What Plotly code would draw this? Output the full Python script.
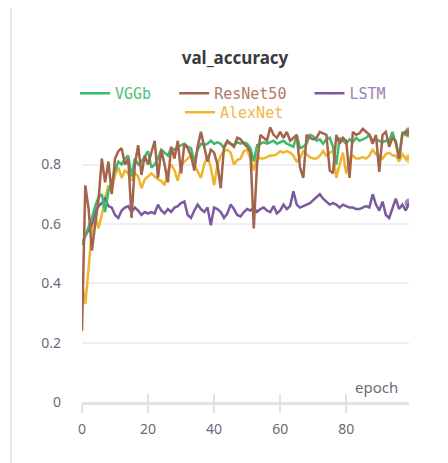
import plotly.graph_objects as go

epochs = list(range(100))

vggb = [0.53, 0.56, 0.585, 0.62, 0.66, 0.69, 0.70, 0.64, 0.71, 0.74,
        0.78, 0.81, 0.80, 0.82, 0.83, 0.76, 0.82, 0.80, 0.81, 0.83,
        0.845, 0.79, 0.80, 0.82, 0.85, 0.84, 0.83, 0.855, 0.85, 0.86,
        0.865, 0.87, 0.86, 0.855, 0.81, 0.85, 0.87, 0.865, 0.87, 0.88,
        0.87, 0.875, 0.87, 0.855, 0.875, 0.87, 0.865, 0.875, 0.87, 0.875,
        0.87, 0.855, 0.81, 0.865, 0.87, 0.875, 0.87, 0.875, 0.88, 0.87,
        0.875, 0.88, 0.87, 0.865, 0.86, 0.90, 0.855, 0.86, 0.87, 0.90,
        0.895, 0.88, 0.885, 0.87, 0.885, 0.89, 0.86, 0.80, 0.89, 0.88,
        0.87, 0.885, 0.875, 0.89, 0.88, 0.885, 0.89, 0.90, 0.88, 0.885,
        0.88, 0.875, 0.88, 0.88, 0.91, 0.87, 0.82, 0.91, 0.90, 0.905]

resnet50 = [0.24, 0.73, 0.65, 0.51, 0.60, 0.68, 0.82, 0.74, 0.81, 0.70,
            0.82, 0.845, 0.855, 0.80, 0.82, 0.62, 0.80, 0.865, 0.765, 0.83,
            0.80, 0.84, 0.88, 0.755, 0.85, 0.80, 0.74, 0.86, 0.82, 0.88,
            0.77, 0.87, 0.855, 0.83, 0.78, 0.86, 0.91, 0.86, 0.81, 0.85,
            0.84, 0.80, 0.72, 0.86, 0.88, 0.87, 0.86, 0.89, 0.885, 0.87,
            0.86, 0.84, 0.585, 0.80, 0.90, 0.89, 0.88, 0.925, 0.90, 0.89,
            0.91, 0.89, 0.91, 0.88, 0.89, 0.90, 0.79, 0.755, 0.90, 0.89,
            0.885, 0.89, 0.91, 0.905, 0.90, 0.78, 0.77, 0.90, 0.87, 0.89,
            0.88, 0.755, 0.91, 0.90, 0.905, 0.92, 0.91, 0.90, 0.87, 0.90,
            0.775, 0.90, 0.91, 0.86, 0.89, 0.88, 0.82, 0.90, 0.91, 0.91]

lstm = [0.53, 0.56, 0.58, 0.60, 0.64, 0.66, 0.67, 0.685, 0.66, 0.655,
        0.63, 0.62, 0.645, 0.655, 0.66, 0.64, 0.655, 0.645, 0.63, 0.64,
        0.635, 0.64, 0.635, 0.665, 0.645, 0.635, 0.65, 0.64, 0.655, 0.66,
        0.67, 0.675, 0.63, 0.62, 0.645, 0.665, 0.65, 0.64, 0.655, 0.595,
        0.655, 0.65, 0.64, 0.62, 0.635, 0.665, 0.65, 0.63, 0.625, 0.64,
        0.65, 0.645, 0.655, 0.64, 0.65, 0.655, 0.645, 0.64, 0.66, 0.635,
        0.645, 0.665, 0.65, 0.66, 0.71, 0.665, 0.655, 0.66, 0.665, 0.67,
        0.68, 0.69, 0.70, 0.685, 0.675, 0.665, 0.67, 0.665, 0.655, 0.665,
        0.66, 0.655, 0.655, 0.65, 0.65, 0.655, 0.66, 0.655, 0.70, 0.665,
        0.645, 0.675, 0.63, 0.62, 0.655, 0.685, 0.65, 0.665, 0.645, 0.67]

alexnet = [0.40, 0.33, 0.45, 0.585, 0.63, 0.585, 0.63, 0.69, 0.73, 0.71,
           0.765, 0.79, 0.755, 0.78, 0.77, 0.745, 0.77, 0.76, 0.72, 0.75,
           0.76, 0.77, 0.76, 0.75, 0.745, 0.73, 0.78, 0.80, 0.78, 0.745,
           0.80, 0.81, 0.82, 0.83, 0.80, 0.78, 0.755, 0.80, 0.83, 0.79,
           0.73, 0.80, 0.83, 0.845, 0.85, 0.84, 0.80, 0.815, 0.82, 0.845,
           0.85, 0.82, 0.78, 0.83, 0.82, 0.82, 0.825, 0.83, 0.83, 0.835,
           0.845, 0.84, 0.845, 0.84, 0.83, 0.81, 0.82, 0.845, 0.835, 0.825,
           0.82, 0.82, 0.83, 0.845, 0.83, 0.84, 0.845, 0.755, 0.80, 0.84,
           0.77, 0.82, 0.83, 0.82, 0.82, 0.825, 0.82, 0.83, 0.85, 0.835,
           0.83, 0.82, 0.835, 0.84, 0.83, 0.83, 0.81, 0.835, 0.82, 0.82]

x_ticks = [0, 20, 40, 60, 80]
y_ticks = [0, 0.2, 0.4, 0.6, 0.8]
y_tick_text = ["0", "0.2", "0.4", "0.6", "0.8"]

C_GREEN = "#3dba6a"
C_BROWN = "#a4644b"
C_PURPLE = "#7a5a9f"
C_YELLOW = "#efb52d"

series = [
    ("AlexNet", alexnet, C_YELLOW, "#f0b84a", "legend2"),
    ("LSTM", lstm, C_PURPLE, "#9a82b8", "legend"),
    ("VGGb", vggb, C_GREEN, "#4cc27a", "legend"),
    ("ResNet50", resnet50, C_BROWN, "#b07a64", "legend"),
]

W, H = 448, 463
OFF = 8  # page body margin offset
# target screen positions of the plot area
SX0, SX1, SY0, SY1 = 82, 409, 120, 402
L = SX0 - OFF
R = W - (SX1 - OFF)
T = SY0 - OFF
B = H - (SY1 - OFF)
PW = W - L - R
PH = H - T - B


def px(sx):
    return (sx - OFF - L) / PW


def py(sy):
    return (H - B - (sy - OFF)) / PH


fig = go.Figure()
legend_order = {"VGGb": 1, "ResNet50": 2, "LSTM": 3, "AlexNet": 1}
pad = {"VGGb": "\u00a0\u00a0", "ResNet50": "\u00a0\u00a0", "LSTM": "", "AlexNet": ""}
for name, vals, col, tcol, leg in series:
    sizes = [0] * (len(vals) - 1) + [9]
    fig.add_trace(go.Scatter(
        x=epochs, y=vals, mode="lines+markers",
        name=f'<span style="color:{tcol}">{name}</span>{pad[name]}',
        line=dict(color=col, width=2.5),
        marker=dict(size=sizes, color=col, line=dict(width=0)),
        legend=leg, legendrank=legend_order[name],
    ))

# invisible helper trace on xaxis2 for crossing ticks
fig.add_trace(go.Scatter(x=[0, 99], y=[None, None], xaxis="x2", showlegend=False,
                         hoverinfo="skip"))

tick_font = dict(family="Noto Sans, Open Sans, sans-serif", size=14, color="#6b6b76")

fig.update_layout(
    width=W, height=H,
    margin=dict(l=L, r=R, t=T, b=B, autoexpand=False),
    paper_bgcolor="white", plot_bgcolor="white",
    title=dict(text="<b>val_accuracy</b>", x=(235 - OFF) / W, xref="container", xanchor="center",
               y=1 - (58 - OFF) / H, yref="container", yanchor="middle",
               font=dict(family="Noto Sans, Inter, sans-serif", size=17, color="#3b3b40")),
    xaxis=dict(range=[0, 99], tickvals=x_ticks, ticks="outside", ticklen=8, tickwidth=1.5,
               tickcolor="#e3e3e6", showgrid=False, zeroline=False, showline=True,
               linecolor="#e3e3e6", linewidth=2.5, tickfont=tick_font, ticklabelstandoff=4),
    xaxis2=dict(range=[0, 99], tickvals=x_ticks, ticks="inside", ticklen=8, tickwidth=1.5,
                tickcolor="#e3e3e6", showgrid=False, zeroline=False, showline=False,
                showticklabels=False, overlaying="x", anchor="y", side="bottom"),
    yaxis=dict(range=[0, 0.95], tickvals=y_ticks, ticktext=y_tick_text, showgrid=True,
               gridcolor="#efeff1", gridwidth=1.5, zeroline=False, showline=False, ticks="",
               tickfont=tick_font, ticklabelstandoff=20),
    legend=dict(orientation="h", xref="container", yref="container", x=(75 - OFF) / W,
                xanchor="left", y=1 - (77 - OFF) / H, yanchor="top",
                font=dict(family="DejaVu Sans Mono", size=15),
                bgcolor="rgba(0,0,0,0)", borderwidth=0, itemclick=False, tracegroupgap=0),
    legend2=dict(orientation="h", xref="container", yref="container", x=(180 - OFF) / W,
                 xanchor="left", y=1 - (96 - OFF) / H, yanchor="top",
                 font=dict(family="DejaVu Sans Mono", size=15),
                 bgcolor="rgba(0,0,0,0)", borderwidth=0, itemclick=False),
    showlegend=True,
    hovermode=False,
    annotations=[dict(text="epoch", xref="x", yref="y", x=99, y=0, xanchor="right",
                      yanchor="bottom", xshift=-9, yshift=3, showarrow=False,
                      font=dict(family="Noto Sans, Open Sans, sans-serif", size=15,
                                color="#6b6b76"))],
    shapes=[
        dict(type="line", xref="paper", yref="paper",
             x0=px(11), x1=px(11), y0=py(1), y1=py(H + OFF),
             line=dict(color="#e2e2e4", width=1.5)),
        dict(type="line", xref="paper", yref="paper",
             x0=px(11), x1=px(W + OFF), y0=py(1), y1=py(1),
             line=dict(color="#eeeeef", width=1)),
    ],
)

fig.write_html("out.html")
